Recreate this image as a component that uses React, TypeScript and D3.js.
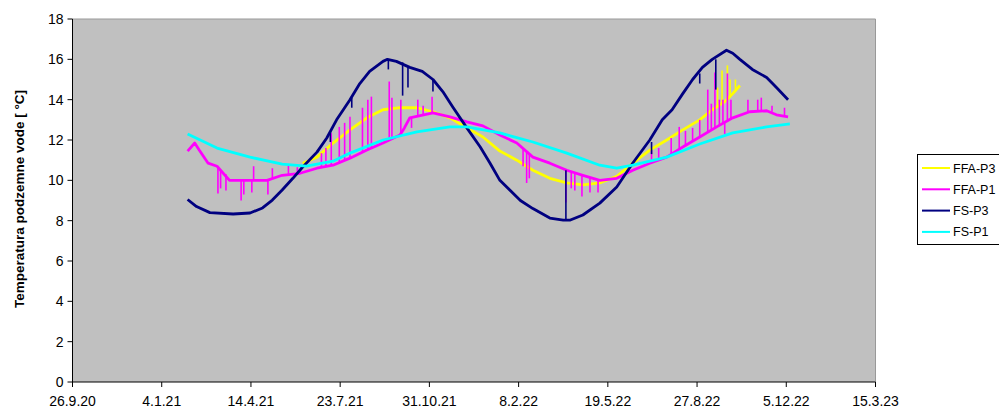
import React from "react";
import * as d3 from "d3";

type Pt = [string, number];
type Spike = [string, number, number];

const X_TICKS = ["2020-09-26", "2021-01-04", "2021-04-14", "2021-07-23", "2021-10-31", "2022-02-08", "2022-05-19", "2022-08-27", "2022-12-05", "2023-03-15"];
const Y_TICKS = [0, 2, 4, 6, 8, 10, 12, 14, 16, 18];
const SERIES_NAMES = ["FFA-P3", "FFA-P1", "FS-P3", "FS-P1"];
const SERIES_COLORS = ["#FFFF00", "#FF00FF", "#000080", "#00FFFF"];

const FFA_P3: Pt[] = [
  ["2021-06-11", 10.85], ["2021-06-27", 11.15], ["2021-07-15", 11.85], ["2021-08-03", 12.5],
  ["2021-08-22", 13.1], ["2021-09-09", 13.5], ["2021-09-28", 13.6], ["2021-10-17", 13.6],
  ["2021-11-04", 13.4], ["2021-11-23", 13.1], ["2021-12-12", 12.6], ["2021-12-30", 12.15],
  ["2022-01-18", 11.45], ["2022-02-06", 11.0], ["2022-02-24", 10.5], ["2022-03-15", 10.1],
  ["2022-04-03", 9.87], ["2022-04-21", 9.77], ["2022-05-10", 9.87], ["2022-05-29", 10.2],
  ["2022-06-16", 10.85], ["2022-07-05", 11.5], ["2022-07-24", 12.0], ["2022-08-11", 12.5],
  ["2022-08-30", 13.0], ["2022-09-13", 13.5], ["2022-09-27", 13.9], ["2022-10-06", 14.3],
  ["2022-10-14", 14.7],
];
const FFA_P3_SPIKES: Spike[] = [
  ["2022-09-19", 13.6, 14.6], ["2022-09-24", 13.8, 15.45], ["2022-09-30", 14.0, 15.7],
  ["2022-10-03", 14.1, 15.0], ["2022-10-09", 14.4, 15.0],
];

const FFA_P1: Pt[] = [
  ["2021-02-02", 11.45], ["2021-02-10", 11.85], ["2021-02-15", 11.5], ["2021-02-25", 10.85],
  ["2021-03-07", 10.7], ["2021-03-21", 10.0], ["2021-04-13", 10.0], ["2021-05-02", 10.0],
  ["2021-05-19", 10.25], ["2021-06-08", 10.35], ["2021-06-27", 10.6], ["2021-07-15", 10.75],
  ["2021-08-03", 11.1], ["2021-08-22", 11.5], ["2021-09-09", 11.85], ["2021-09-28", 12.25],
  ["2021-10-03", 12.6], ["2021-10-09", 13.1], ["2021-11-04", 13.35], ["2021-11-23", 13.15],
  ["2021-12-12", 12.9], ["2021-12-30", 12.7], ["2022-01-18", 12.25], ["2022-02-06", 11.85],
  ["2022-02-24", 11.15], ["2022-03-15", 10.85], ["2022-04-03", 10.5], ["2022-04-21", 10.25],
  ["2022-05-10", 10.0], ["2022-05-29", 10.1], ["2022-06-16", 10.5], ["2022-07-05", 10.85],
  ["2022-07-24", 11.15], ["2022-08-11", 11.65], ["2022-08-30", 12.15], ["2022-09-18", 12.65],
  ["2022-10-06", 13.1], ["2022-10-25", 13.4], ["2022-11-13", 13.45], ["2022-11-24", 13.25],
  ["2022-12-07", 13.15],
];
const FFA_P1_SPIKES: Spike[] = [
  ["2021-03-08", 10.7, 9.35], ["2021-03-11", 10.5, 9.6], ["2021-03-17", 10.3, 9.5],
  ["2021-04-03", 10.0, 9.0], ["2021-04-06", 10.0, 9.3], ["2021-04-15", 10.0, 9.4],
  ["2021-04-17", 10.0, 10.7], ["2021-05-03", 10.0, 9.3], ["2021-05-08", 10.1, 10.6],
  ["2021-05-26", 10.3, 10.8], ["2021-06-05", 10.35, 10.65],
  ["2021-07-02", 10.65, 11.35], ["2021-07-07", 10.7, 11.6], ["2021-07-13", 10.75, 12.35],
  ["2021-07-22", 10.9, 12.65], ["2021-07-28", 11.0, 12.85], ["2021-08-03", 11.1, 13.15],
  ["2021-08-17", 11.4, 13.6], ["2021-08-23", 11.5, 14.0], ["2021-08-27", 11.6, 14.15],
  ["2021-09-16", 12.0, 14.9], ["2021-09-19", 12.1, 14.1], ["2021-09-29", 12.3, 14.0],
  ["2021-10-11", 13.1, 12.6], ["2021-10-18", 13.2, 14.0], ["2021-10-24", 13.25, 13.7],
  ["2021-11-03", 13.35, 14.15],
  ["2022-02-13", 11.6, 10.7], ["2022-02-17", 11.4, 9.87], ["2022-02-20", 11.3, 10.1],
  ["2022-04-02", 10.5, 8.9], ["2022-04-08", 10.45, 9.6], ["2022-04-12", 10.4, 9.5],
  ["2022-04-20", 10.25, 9.2], ["2022-04-29", 10.15, 9.4], ["2022-05-08", 10.0, 9.4],
  ["2022-07-07", 10.9, 11.5], ["2022-07-15", 11.0, 11.6], ["2022-07-29", 11.3, 12.1],
  ["2022-08-07", 11.5, 12.65], ["2022-08-14", 11.75, 12.45], ["2022-08-22", 11.95, 12.6],
  ["2022-08-30", 12.15, 13.0], ["2022-09-08", 12.4, 14.5], ["2022-09-12", 12.5, 13.8],
  ["2022-09-16", 12.6, 15.35], ["2022-09-21", 12.7, 14.0], ["2022-09-25", 12.8, 14.0],
  ["2022-09-27", 12.85, 12.3], ["2022-09-30", 12.9, 15.3], ["2022-10-04", 13.0, 14.0],
  ["2022-10-23", 13.35, 14.0], ["2022-11-03", 13.45, 14.0], ["2022-11-07", 13.45, 14.1],
  ["2022-11-19", 13.4, 13.7], ["2022-12-03", 13.2, 13.6],
];

const FS_P3: Pt[] = [
  ["2021-02-02", 9.05], ["2021-02-12", 8.7], ["2021-02-27", 8.4], ["2021-03-25", 8.33],
  ["2021-04-13", 8.38], ["2021-04-27", 8.63], ["2021-05-08", 9.02], ["2021-05-19", 9.52],
  ["2021-05-31", 10.1], ["2021-06-11", 10.66], ["2021-06-27", 11.4], ["2021-07-08", 12.1],
  ["2021-07-19", 13.0], ["2021-08-03", 14.0], ["2021-08-14", 14.8], ["2021-08-25", 15.4],
  ["2021-09-09", 15.9], ["2021-09-14", 16.0], ["2021-09-24", 15.9], ["2021-10-09", 15.6],
  ["2021-10-23", 15.4], ["2021-11-04", 15.0], ["2021-11-15", 14.4], ["2021-11-26", 13.65],
  ["2021-12-12", 12.6], ["2021-12-27", 11.65], ["2022-01-07", 10.85], ["2022-01-18", 10.0],
  ["2022-02-10", 9.0], ["2022-02-24", 8.6], ["2022-03-15", 8.13], ["2022-03-30", 8.03],
  ["2022-04-07", 8.03], ["2022-04-21", 8.28], ["2022-05-10", 8.87], ["2022-05-29", 9.67],
  ["2022-06-16", 10.86], ["2022-07-05", 12.0], ["2022-07-19", 13.0], ["2022-07-30", 13.5],
  ["2022-08-11", 14.3], ["2022-08-22", 15.0], ["2022-09-02", 15.6], ["2022-09-13", 16.0],
  ["2022-09-29", 16.45], ["2022-10-06", 16.3], ["2022-10-14", 16.0], ["2022-10-28", 15.5],
  ["2022-11-13", 15.1], ["2022-11-24", 14.6], ["2022-12-07", 14.0],
];
const FS_P3_SPIKES: Spike[] = [
  ["2021-07-12", 12.4, 11.9], ["2021-08-05", 14.1, 13.6], ["2021-09-15", 16.0, 15.5],
  ["2021-10-01", 15.85, 14.2], ["2021-10-07", 15.65, 14.6], ["2021-11-04", 15.0, 14.4],
  ["2022-04-02", 8.03, 10.5], ["2022-07-07", 11.9, 11.3], ["2022-08-30", 15.3, 14.8],
  ["2022-09-17", 16.0, 14.5],
];

const FS_P1: Pt[] = [
  ["2021-02-02", 12.3], ["2021-03-07", 11.6], ["2021-04-13", 11.15], ["2021-05-19", 10.8],
  ["2021-06-15", 10.7], ["2021-07-15", 10.95], ["2021-08-03", 11.35], ["2021-09-09", 12.0],
  ["2021-10-17", 12.4], ["2021-11-23", 12.65], ["2021-12-12", 12.65], ["2022-01-18", 12.35],
  ["2022-02-24", 11.9], ["2022-04-03", 11.35], ["2022-05-10", 10.75], ["2022-05-29", 10.6],
  ["2022-06-16", 10.75], ["2022-07-24", 11.15], ["2022-08-30", 11.8], ["2022-10-06", 12.35],
  ["2022-11-13", 12.65], ["2022-12-09", 12.8],
];

const SERIES: Pt[][] = [FFA_P3, FFA_P1, FS_P3, FS_P1];
const SPIKES: Spike[][] = [FFA_P3_SPIKES, FFA_P1_SPIKES, FS_P3_SPIKES, []];

const parse = d3.timeParse("%Y-%m-%d");
const fmt = d3.timeFormat("%-d.%-m.%y");

export default function App() {
  const W = 999, H = 408;
  const L = 72.5, R = 875.5, T = 19, B = 382;
  const tickDates = X_TICKS.map((s) => parse(s) as Date);
  const x = d3.scaleTime().domain([tickDates[0], tickDates[tickDates.length - 1]]).range([L, R]);
  const y = d3.scaleLinear().domain([0, 18]).range([B, T]);
  const line = d3.line<Pt>().x((d) => x(parse(d[0]) as Date)).y((d) => y(d[1]));
  const font = "'Liberation Sans', Arial, sans-serif";

  return (
    <svg width={W} height={H} style={{ position: "absolute", left: 0, top: 0, background: "#fff" }} fontFamily={font}>
      <rect x={L} y={T} width={R - L} height={B - T} fill="#C0C0C0" />
      <line x1={L} y1={T} x2={R} y2={T} stroke="#999" strokeWidth={1} />
      <line x1={R} y1={T} x2={R} y2={B} stroke="#999" strokeWidth={1} />
      {SERIES.map((s, i) => (
        <g key={i}>
          <path d={line(s) || ""} fill="none" stroke={SERIES_COLORS[i]} strokeWidth={2.8} strokeLinejoin="round" />
          {SPIKES[i].map((sp, j) => {
            const px = x(parse(sp[0]) as Date);
            return <line key={j} x1={px} x2={px} y1={y(sp[1])} y2={y(sp[2])} stroke={SERIES_COLORS[i]} strokeWidth={1.6} />;
          })}
        </g>
      ))}
      <line x1={L} y1={T} x2={L} y2={B} stroke="#000" strokeWidth={1} />
      <line x1={L} y1={B} x2={R} y2={B} stroke="#000" strokeWidth={1} />
      {Y_TICKS.map((t) => (
        <g key={t}>
          <line x1={L - 5} x2={L} y1={y(t)} y2={y(t)} stroke="#000" />
          <text x={L - 9} y={y(t)} dy="0.36em" textAnchor="end" fontSize={14} fill="#000">{t}</text>
        </g>
      ))}
      {tickDates.map((d, i) => (
        <g key={i}>
          <line x1={x(d)} x2={x(d)} y1={B} y2={B + 5} stroke="#000" />
          <text x={x(d)} y={406} textAnchor="middle" fontSize={14} fill="#000">{fmt(d)}</text>
        </g>
      ))}
      <text transform={`translate(24,199) rotate(-90)`} textAnchor="middle" fontSize={13.5} fontWeight="bold" fill="#000">
        Temperatura podzemne vode [ °C]
      </text>
      <rect x={917.5} y={154.5} width={100} height={90} fill="#fff" stroke="#000" strokeWidth={1} />
      {SERIES_NAMES.map((n, i) => (
        <g key={n}>
          <line x1={922} x2={950} y1={168 + i * 21.3} y2={168 + i * 21.3} stroke={SERIES_COLORS[i]} strokeWidth={2} />
          <text x={953} y={168 + i * 21.3} dy="0.36em" fontSize={12.5} fill="#000">{n}</text>
        </g>
      ))}
    </svg>
  );
}
